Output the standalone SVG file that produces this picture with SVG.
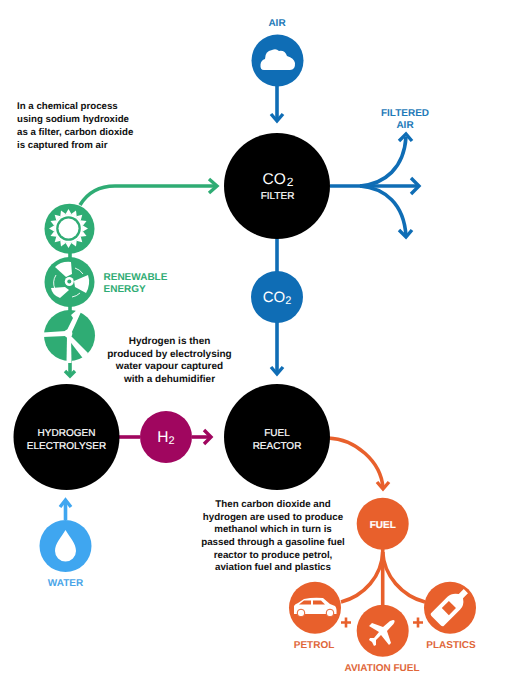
<svg xmlns="http://www.w3.org/2000/svg" width="514" height="696" viewBox="0 0 514 696">
<style>
text{font-family:"Liberation Sans",Arial,sans-serif;text-rendering:geometricPrecision}
.t{font-size:9.7px;font-weight:700;fill:#111}
.t2{font-size:10px;font-weight:700;fill:#111;text-anchor:middle}
.t3{font-size:9.750px;font-weight:700;fill:#111;text-anchor:middle}
.w{font-size:10px;fill:#fff;text-anchor:middle;font-weight:400;stroke:#fff;stroke-width:.2}
.f{font-size:15.5px;fill:#fff;text-anchor:middle}
.s{font-size:10px;font-weight:700}
.m{text-anchor:middle}
.ln{fill:none;stroke-width:3.6}
.b{stroke:#0f6db5}.g{stroke:#2fac74}.o{stroke:#e8602c}.p{stroke:#a0065f}.c{stroke:#3fa6f0}
.ah{fill:none;stroke-width:3.4}
</style>
<defs><path id="ray" d="M-3.200 -14L0 -19.500L3.200 -14Z" fill="#fff"/></defs>
<rect width="514" height="696" fill="#fff"/>
<g id="connectors">
<path class="ln b" d="M277 86V120"/><path class="ah b" d="M271 114L277 121L283 114"/>
<path class="ln b" d="M330 186H418"/><path class="ah b" d="M411 178L419 186L411 194"/>
<path class="ln b" d="M360 186C385 184 404 168 406 137"/><path class="ah b" d="M399 141L406 134L412 141"/>
<path class="ln b" d="M360 186C385 188 404 204 406 236"/><path class="ah b" d="M399 230L406 237L412 230"/>
<path class="ln b" d="M277 238V272"/>
<path class="ln b" d="M277 322V374"/><path class="ah b" d="M271 367L277 374L283 367"/>
<path class="ln g" d="M80 205C88 192 100 186 115 186H216"/><path class="ah g" d="M209 179L217 186L209 193"/>
<path class="ln g" d="M70 252V258"/><path class="ln g" d="M70 306V312"/>
<path class="ln g" d="M70 360V376"/><path class="ah g" d="M65 371L70 376L75 371"/>
<path class="ln p" d="M119 437H140"/><path class="ln p" d="M192 437H210"/><path class="ah p" d="M204 430L211 437L204 444"/>
<path class="ln c" d="M65.500 520V501"/><path class="ah c" d="M60 507L65.500 500L71 507"/>
<path class="ln o" d="M328 438C355 439 381 461 383 488"/><path class="ah o" d="M377 482L383 489L389 482"/>
<path class="ln o" d="M382.700 549V606"/>
<path class="ln o" d="M382.700 552C382 576 364 596 341 602"/>
<path class="ln o" d="M382.700 552C384 576 402 596 425 602"/>
<path fill="none" stroke="#e8602c" stroke-width="2.600" d="M341 622.500H351M346 617.500V627.500M413 622.500H423M418 617.500V627.500"/>
</g>
<g id="air"><circle cx="277.500" cy="60.500" r="26" fill="#0f6db5"/>
<path fill="#fff" d="M264 70Q260 70 260.500 64.500Q261 60 265 59Q265 51 272 50Q276 48 279 51Q285 50 287 56Q294 58 295 63Q295.500 70 290 70Z"/>
<text class="s m" x="277" y="26" fill="#1f7ab8">AIR</text></g>
<g id="co2-filter"><circle cx="277" cy="186" r="53" fill="#000"/>
<text class="f" x="278" y="184">CO<tspan font-size="12" dx="1" dy="2">2</tspan></text>
<text class="w" x="277.500" y="199">FILTER</text></g>
<g id="filtered-air-label"><text class="s m" x="405" y="116" fill="#1f7ab8">FILTERED</text><text class="s m" x="405" y="127.500" fill="#1f7ab8">AIR</text></g>
<g id="co2"><circle cx="277" cy="297" r="26" fill="#0f6db5"/><text class="f" x="277" y="302" style="font-size:15px">CO<tspan font-size="11" dy="2">2</tspan></text></g>
<g id="fuel-reactor"><circle cx="277" cy="437" r="53" fill="#000"/><text class="w" x="277" y="436">FUEL</text><text class="w" x="277" y="449">REACTOR</text></g>
<g id="hydrogen-electrolyser"><circle cx="66.500" cy="437" r="53" fill="#000"/><text class="w" x="66.500" y="436">HYDROGEN</text><text class="w" x="66.500" y="449">ELECTROLYSER</text></g>
<g id="h2"><circle cx="166" cy="437" r="26" fill="#a0065f"/><text class="f" x="166" y="442">H<tspan font-size="11" dy="2">2</tspan></text></g>
<g id="water"><circle cx="65.500" cy="546" r="26" fill="#3fa6f0"/>
<path fill="#fff" d="M65.500 530C70 538 76 543 76 551A10.500 10.500 0 0 1 55 551C55 543 61 538 65.500 530Z"/>
<text class="s m" x="65.500" y="586" fill="#4aa5e8">WATER</text></g>
<g id="sun"><circle cx="69.500" cy="228.700" r="25" fill="#2fac74"/>
<g transform="translate(68.500 228.500)">
<use href="#ray"/><use href="#ray" transform="rotate(22.500)"/><use href="#ray" transform="rotate(45)"/><use href="#ray" transform="rotate(67.500)"/><use href="#ray" transform="rotate(90)"/><use href="#ray" transform="rotate(112.500)"/><use href="#ray" transform="rotate(135)"/><use href="#ray" transform="rotate(157.500)"/><use href="#ray" transform="rotate(180)"/><use href="#ray" transform="rotate(202.500)"/><use href="#ray" transform="rotate(225)"/><use href="#ray" transform="rotate(247.500)"/><use href="#ray" transform="rotate(270)"/><use href="#ray" transform="rotate(292.500)"/><use href="#ray" transform="rotate(315)"/><use href="#ray" transform="rotate(337.500)"/>
<circle r="14.500" fill="#fff"/><circle r="12.300" fill="#2fac74"/><circle r="10" fill="#fff"/></g></g>
<g id="fan"><circle cx="69.500" cy="282" r="25" fill="#2fac74"/>
<g fill="#fff"><path d="M66 277L55 267Q61 261 71 262L72 274Z"/><path d="M74 281L88 275Q91 284 86 293L75 287Z"/><path d="M65 287L51 288Q52 295 60 298L69 290Z"/></g>
<g fill="none" stroke="#fff" stroke-width=".9"><path d="M55 289A15 15 0 0 1 56 275M75 268A15 15 0 0 1 83 274M80 293A15 15 0 0 1 72 297"/></g>
<circle cx="69.300" cy="281.500" r="4.500" fill="#fff"/><circle cx="69.300" cy="281.500" r="2" fill="#2fac74"/></g>
<g id="turbine"><circle cx="69.500" cy="335.500" r="25.500" fill="#2fac74"/>
<g fill="#fff"><path d="M66.500 331L73 318L71 315L78 309L81 312L71 334Z"/><path d="M66 331L43 332.500V337L66 336Z"/><path d="M70 335L88 353L85 361L66.500 337Z"/><path d="M67 336H71L71.500 363H66.500Z"/><circle cx="68.300" cy="333.500" r="4"/></g></g>
<g id="fuel"><circle cx="382.700" cy="523.700" r="26" fill="#e8602c"/><text class="w" x="382.700" y="528" style="font-weight:700">FUEL</text></g>
<g id="petrol"><circle cx="315" cy="607.700" r="26" fill="#e8602c"/>
<path fill="#fff" d="M294 614V606Q295 604 298 603L304 599Q313 597 323 598L330 604L335 606Q337 608 336.500 614Z"/>
<circle cx="301" cy="613" r="3.800" fill="#fff" stroke="#e8602c"/><circle cx="330" cy="613" r="3.800" fill="#fff" stroke="#e8602c"/>
<path fill="#e8602c" d="M304 600.500H311V604.500H299ZM313 600.500H321L325 604.500H313Z"/>
<text class="s m" x="314" y="648" fill="#e0673a">PETROL</text></g>
<g id="aviation"><circle cx="382.700" cy="630.700" r="26" fill="#e8602c"/>
<path fill="#fff" d="M393 620Q396 620 393.500 624L387 631L391 643L389 645L381 635L376 640V645L374 646L372 642L369 640L370 638L374 638L379 632L369 626L372 623L383 627L390 621Z"/>
<text class="s m" x="382" y="671" fill="#e0673a">AVIATION FUEL</text></g>
<g id="plastics"><circle cx="450" cy="607.700" r="26" fill="#e8602c"/>
<g transform="rotate(45 451 606)"><path fill="#fff" d="M448 585H454V592Q460 596 460 602V625Q460 627 457 627H445Q442 627 442 625V602Q442 596 448 592Z"/><rect x="446" y="604" width="10" height="10" fill="#e8602c"/></g>
<text class="s m" x="451" y="648" fill="#e0673a">PLASTICS</text></g>
<g id="renewable-label"><text class="s" x="103.500" y="280" fill="#2fac74">RENEWABLE</text><text class="s" x="103.500" y="291.500" fill="#2fac74">ENERGY</text></g>
<g id="notes">
<text class="t" x="17" y="109">In a chemical process</text><text class="t" x="17" y="122">using sodium hydroxide</text><text class="t" x="17" y="135">as a filter, carbon dioxide</text><text class="t" x="17" y="148">is captured from air</text>
<text class="t2" x="169.500" y="344">Hydrogen is then</text><text class="t2" x="169.500" y="357">produced by electrolysing</text><text class="t2" x="169.500" y="369">water vapour captured</text><text class="t2" x="169.500" y="382">with a dehumidifier</text>
<text class="t3" x="273" y="507">Then carbon dioxide and</text><text class="t3" x="273" y="520">hydrogen are used to produce</text><text class="t3" x="273" y="532">methanol which in turn is</text><text class="t3" x="273" y="545">passed through a gasoline fuel</text><text class="t3" x="273" y="558">reactor to produce petrol,</text><text class="t3" x="273" y="570">aviation fuel and plastics</text>
</g>
</svg>
